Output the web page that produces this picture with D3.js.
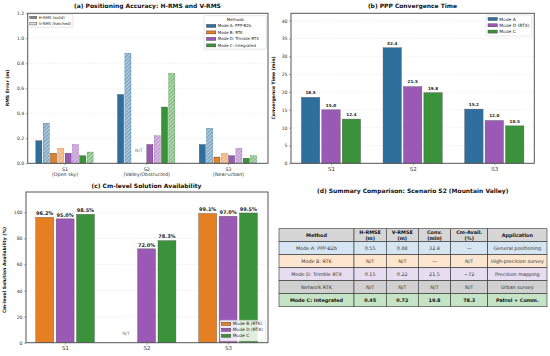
<!DOCTYPE html>
<html><head><meta charset="utf-8">
<script src="https://cdn.jsdelivr.net/npm/d3@7"></script>
<style>body{margin:0;background:#fff}svg{display:block;font-family:"DejaVu Sans",sans-serif}</style>
</head><body><svg id="c" width="550" height="356"></svg>
<script>
// ---------- data ----------
const scenarios = ["S1", "S2", "S3"];
const scenarioDesc = ["(Open sky)", "(Valley/Obstructed)", "(Near-urban)"];
const methods = ["Mode A: PPP-B2b", "Mode B: RTK", "Mode D: Trimble RTX", "Mode C: Integrated"];
const methodColors = ["#2e6f9e", "#e67e22", "#9b59b6", "#3a923a"];
const hRms = [[0.18, 0.55, 0.15], [0.08, null, 0.05], [0.08, 0.15, 0.06], [0.06, 0.45, 0.04]];
const vRms = [[0.32, 0.88, 0.28], [0.12, null, 0.08], [0.15, 0.22, 0.12], [0.09, 0.72, 0.06]];
const rmsTicks = [0, 0.2, 0.4, 0.6, 0.8, 1.0, 1.2];

const convMethods = ["Mode A", "Mode D (RTX)", "Mode C"];
const convColors = ["#2e6f9e", "#9b59b6", "#3a923a"];
const convValues = [[18.5, 32.4, 15.2], [15.0, 21.5, 12.0], [12.4, 19.8, 10.5]];
const convTicks = [0, 5, 10, 15, 20, 25, 30, 35, 40];

const availMethods = ["Mode B (RTK)", "Mode D (RTX)", "Mode C"];
const availColors = ["#e67e22", "#9b59b6", "#3a923a"];
const availValues = [[96.2, null, 99.1], [95.0, 72.0, 97.0], [98.5, 78.3, 99.5]];
const availTicks = [0, 20, 40, 60, 80, 100];

const tableHeader = ["Method", "H-RMSE\n(m)", "V-RMSE\n(m)", "Conv.\n(min)", "Cm-Avail.\n(%)", "Application"];
const tableRows = [
  ["Mode A: PPP-B2b", "0.55", "0.88", "32.4", "—", "General positioning"],
  ["Mode B: RTK", "N/T", "N/T", "—", "N/T", "High-precision survey"],
  ["Mode D: Trimble RTX", "0.15", "0.22", "21.5", "~72", "Precision mapping"],
  ["Network RTK", "N/T", "N/T", "N/T", "N/T", "Urban survey"],
  ["Mode C: Integrated", "0.45", "0.72", "19.8", "78.3", "Patrol + Comm."]
];
const rowColors = ["#d5e6f2", "#fde6d0", "#e6def0", "#d0d0d0", "#c5e3c5"];
const headerColor = "#d6d6d6";

// ---------- setup ----------
const svg = d3.select("#c");
const probe = svg.append("text").attr("x", -1000).attr("y", -1000);
function sizeFor(txt, target, weight) {
  probe.attr("font-size", 10).attr("font-weight", weight || "normal").text(txt);
  const w = probe.node().getComputedTextLength();
  return 10 * target / w;
}
const TITLEFS = sizeFor("(a) Positioning Accuracy: H-RMS and V-RMS", 147, "bold");
const LABFS = sizeFor("RMS Error (m)", 36.7, "bold");
const TICKFS = sizeFor("0.0", 7.3);
const XAFS = sizeFor("(Valley/Obstructed)", 46.7);
const LEGAFS = sizeFor("Mode D: Trimble RTX", 41.3);
const LEGA2FS = sizeFor("V-RMS (hatched)", 32.3);
const LEGBFS = sizeFor("Mode D (RTX)", 30.3);
const VALBFS = sizeFor("18.5", 10.3, "bold");
const VALCFS = sizeFor("96.2%", 17.3, "bold");
const NTFS = sizeFor("N/T", 7.7);
const TABFS = sizeFor("General positioning", 47.7);
const TABBFS = sizeFor("Mode C: Integrated", 53.3, "bold");
probe.remove();

const defs = svg.append("defs");
methodColors.forEach((c, i) => {
  const p = defs.append("pattern").attr("id", "hatch" + i)
    .attr("patternUnits", "userSpaceOnUse").attr("width", 2.6).attr("height", 2.6)
    .attr("patternTransform", "rotate(45)");
  p.append("rect").attr("width", 2.6).attr("height", 2.6).attr("fill", "#fff");
  p.append("rect").attr("width", 2.6).attr("height", 2.6).attr("fill", c).attr("opacity", 0.6);
  p.append("line").attr("x1", 0).attr("y1", 0).attr("x2", 0).attr("y2", 2.6)
    .attr("stroke", "#fff").attr("stroke-width", 0.9);
});
const hp = defs.append("pattern").attr("id", "hatchGray")
  .attr("patternUnits", "userSpaceOnUse").attr("width", 2.2).attr("height", 2.2)
  .attr("patternTransform", "rotate(45)");
hp.append("rect").attr("width", 2.2).attr("height", 2.2).attr("fill", "#d8d8d8");
hp.append("line").attr("x1", 0).attr("y1", 0).attr("x2", 0).attr("y2", 2.2)
  .attr("stroke", "#fff").attr("stroke-width", 0.8);

function drawAxes(box, x, y, ticks, fmt, xLabels, xLabels2) {
  const g = svg.append("g");
  g.selectAll(".grid").data(ticks).join("line")
    .attr("x1", box.x0).attr("x2", box.x1)
    .attr("y1", d => y(d)).attr("y2", d => y(d))
    .attr("stroke", "#e2e2e2").attr("stroke-width", 0.5).attr("stroke-dasharray", "1.5,1");
  const ya = g.append("g").attr("transform", `translate(${box.x0},0)`)
    .call(d3.axisLeft(y).tickValues(ticks).tickFormat(fmt).tickSize(2).tickPadding(1.5));
  ya.select(".domain").remove();
  ya.selectAll("text").attr("font-size", TICKFS).attr("fill", "#333").attr("font-family", "DejaVu Sans");
  ya.selectAll("line").attr("stroke", "#555").attr("stroke-width", 0.5);
  const xa = g.append("g").attr("transform", `translate(0,${box.y1})`)
    .call(d3.axisBottom(x).tickValues([0, 1, 2]).tickFormat(i => xLabels[i]).tickSize(2).tickPadding(1.8));
  xa.select(".domain").remove();
  xa.selectAll("line").attr("stroke", "#555").attr("stroke-width", 0.5);
  xa.selectAll("text").attr("font-size", box.xfs).attr("fill", "#333").attr("font-family", "DejaVu Sans");
  if (xLabels2) {
    xa.selectAll(".tick").append("text").attr("y", 3.8 + box.xfs * 1.2).attr("dy", "0.71em")
      .attr("font-size", box.xfs).attr("fill", "#333").attr("text-anchor", "middle")
      .attr("font-family", "DejaVu Sans")
      .text(i => xLabels2[i]);
  }
  return g;
}
function frame(box) {
  svg.append("rect").attr("x", box.x0).attr("y", box.y0)
    .attr("width", box.x1 - box.x0).attr("height", box.y1 - box.y0)
    .attr("fill", "none").attr("stroke", "#555").attr("stroke-width", 1);
}
function title(txt, x, y) {
  svg.append("text").attr("x", x).attr("y", y).attr("text-anchor", "middle")
    .attr("font-size", TITLEFS).attr("font-weight", "bold").attr("fill", "#111").text(txt);
}
function ylabel(txt, x, y) {
  svg.append("text").attr("transform", `translate(${x},${y}) rotate(-90)`)
    .attr("text-anchor", "middle").attr("font-size", LABFS).attr("font-weight", "bold")
    .attr("fill", "#111").text(txt);
}
function legend(box, items, fs, rowH, titleTxt) {
  const g = svg.append("g");
  g.append("rect").attr("x", box.x).attr("y", box.y).attr("width", box.w).attr("height", box.h)
    .attr("rx", 1).attr("fill", "#fff").attr("fill-opacity", 0.85)
    .attr("stroke", "#ccc").attr("stroke-width", 0.5);
  let y0 = box.y + box.top;
  if (titleTxt) {
    g.append("text").attr("x", box.x + box.w / 2).attr("y", y0).attr("dy", "0.35em")
      .attr("text-anchor", "middle").attr("font-size", fs).attr("fill", "#222").text(titleTxt);
    y0 += rowH;
  }
  items.forEach((it, i) => {
    const yy = y0 + i * rowH;
    g.append("rect").attr("x", box.x + box.px).attr("y", yy - box.ph / 2)
      .attr("width", box.pw).attr("height", box.ph).attr("fill", it.fill)
      .attr("stroke", "#333").attr("stroke-width", 0.4);
    g.append("text").attr("x", box.x + box.px + box.pw + 2).attr("y", yy).attr("dy", "0.35em")
      .attr("font-size", fs).attr("fill", "#222").text(it.label);
  });
}

// ---------- (a) ----------
{
  const box = { x0: 27.7, x1: 268, y0: 13.3, y1: 163.3, xfs: XAFS };
  const x = d3.scaleLinear().domain([-0.45, 2.49]).range([box.x0, box.x1]);
  const y = d3.scaleLinear().domain([0, 1.2]).range([box.y1, box.y0]);
  drawAxes(box, x, y, rmsTicks, d3.format(".1f"), scenarios, scenarioDesc);
  const bw = 0.074, mstep = 0.179, hv = 0.0447;
  methods.forEach((m, mi) => {
    scenarios.forEach((s, si) => {
      const cx = si + (mi - 1.5) * mstep;
      if (hRms[mi][si] == null) {
        svg.append("text").attr("x", x(cx)).attr("y", y(0.1)).attr("dy", "0.35em")
          .attr("text-anchor", "middle").attr("font-size", NTFS).attr("fill", "#777").text("N/T");
        return;
      }
      svg.append("rect").attr("x", x(cx - hv - bw / 2)).attr("width", x(bw) - x(0))
        .attr("y", y(hRms[mi][si])).attr("height", y(0) - y(hRms[mi][si]))
        .attr("fill", methodColors[mi]).attr("stroke", "#333").attr("stroke-width", 0.35);
      svg.append("rect").attr("x", x(cx + hv - bw / 2)).attr("width", x(bw) - x(0))
        .attr("y", y(vRms[mi][si])).attr("height", y(0) - y(vRms[mi][si]))
        .attr("fill", `url(#hatch${mi})`).attr("stroke", methodColors[mi]).attr("stroke-width", 0.35);
    });
  });
  frame(box);
  title("(a) Positioning Accuracy: H-RMS and V-RMS", 147.5, 8.3);
  ylabel("RMS Error (m)", 8.5, 88);
  legend({ x: 28.6, y: 14.3, w: 44.5, h: 13, top: 3.2, px: 1.2, pw: 7, ph: 2.3 },
    [{ fill: "#888", label: "H-RMS (solid)" }, { fill: "url(#hatchGray)", label: "V-RMS (hatched)" }], LEGA2FS, 6.3);
  legend({ x: 204, y: 15.7, w: 62.5, h: 33.5, top: 3.7, px: 2.5, pw: 9.3, ph: 3 },
    methods.map((m, i) => ({ fill: methodColors[i], label: m })), LEGAFS, 6.5, "Methods");
}

// ---------- (b) ----------
{
  const box = { x0: 291, x1: 534.3, y0: 13.3, y1: 163.3, xfs: TICKFS * 1.2 };
  const x = d3.scaleLinear().domain([-0.49, 2.49]).range([box.x0, box.x1]);
  const y = d3.scaleLinear().domain([0, 42.07]).range([box.y1, box.y0]);
  drawAxes(box, x, y, convTicks, d3.format("d"), scenarios);
  const bw = 0.225, step = 0.25;
  convMethods.forEach((m, mi) => {
    scenarios.forEach((s, si) => {
      const v = convValues[mi][si];
      const cx = si + (mi - 1) * step;
      svg.append("rect").attr("x", x(cx - bw / 2)).attr("width", x(bw) - x(0))
        .attr("y", y(v)).attr("height", y(0) - y(v))
        .attr("fill", convColors[mi]).attr("stroke", "#555").attr("stroke-width", 0.4);
      svg.append("text").attr("x", x(cx)).attr("y", y(v) - 3.2).attr("text-anchor", "middle")
        .attr("font-size", VALBFS).attr("font-weight", "bold").attr("fill", "#222").text(v.toFixed(1));
    });
  });
  frame(box);
  title("(b) PPP Convergence Time", 412.5, 8.3);
  ylabel("Convergence Time (min)", 274.8, 88);
  legend({ x: 486, y: 15, w: 45.7, h: 21, top: 4, px: 2, pw: 9.3, ph: 3 },
    convMethods.map((m, i) => ({ fill: convColors[i], label: m })), LEGBFS, 6.3);
}

// ---------- (c) ----------
{
  const box = { x0: 26, x1: 268, y0: 192, y1: 342.7, xfs: TICKFS * 1.2 };
  const x = d3.scaleLinear().domain([-0.48, 2.49]).range([box.x0, box.x1]);
  const y = d3.scaleLinear().domain([0, 115.6]).range([box.y1, box.y0]);
  drawAxes(box, x, y, availTicks, d3.format("d"), scenarios);
  const bw = 0.22, step = 0.25;
  availMethods.forEach((m, mi) => {
    scenarios.forEach((s, si) => {
      const v = availValues[mi][si];
      const cx = si + (mi - 1) * step;
      if (v == null) {
        svg.append("text").attr("x", x(cx)).attr("y", y(7)).attr("dy", "0.35em")
          .attr("text-anchor", "middle").attr("font-size", NTFS).attr("fill", "#777").text("N/T");
        return;
      }
      svg.append("rect").attr("x", x(cx - bw / 2)).attr("width", x(bw) - x(0))
        .attr("y", y(v)).attr("height", y(0) - y(v))
        .attr("fill", availColors[mi]).attr("stroke", "#555").attr("stroke-width", 0.4);
      svg.append("text").attr("x", x(cx)).attr("y", y(v) - 2.3).attr("text-anchor", "middle")
        .attr("font-size", VALCFS).attr("font-weight", "bold").attr("fill", "#222").text(v.toFixed(1) + "%");
    });
  });
  legend({ x: 220, y: 320.3, w: 45.7, h: 20.7, top: 3.5, px: 1.5, pw: 9.3, ph: 3 },
    availMethods.map((m, i) => ({ fill: availColors[i], label: m })), LEGBFS, 6);
  frame(box);
  title("(c) Cm-level Solution Availability", 146.5, 187.5);
  ylabel("Cm-level Solution Availability (%)", 5.5, 270);
}

// ---------- (d) ----------
{
  title("(d) Summary Comparison: Scenario S2 (Mountain Valley)", 412.7, 192.5);
  const colX = [279, 354, 386.3, 418.3, 450.7, 487.7, 547];
  const rowY = [228.7, 241.7, 254.7, 267.7, 280.7, 293.7, 306.7];
  const all = [tableHeader].concat(tableRows);
  const g = svg.append("g");
  all.forEach((row, ri) => {
    const fill = ri === 0 ? headerColor : rowColors[ri - 1];
    const bold = ri === 0 || ri === all.length - 1;
    row.forEach((cell, ci) => {
      g.append("rect").attr("x", colX[ci]).attr("y", rowY[ri])
        .attr("width", colX[ci + 1] - colX[ci]).attr("height", rowY[ri + 1] - rowY[ri])
        .attr("fill", fill).attr("stroke", "#333").attr("stroke-width", 0.6);
      const lines = cell.split("\n");
      const cx = (colX[ci] + colX[ci + 1]) / 2, cy = (rowY[ri] + rowY[ri + 1]) / 2;
      const lh = 5.4;
      lines.forEach((ln, li) => {
        g.append("text").attr("x", cx).attr("y", cy + (li - (lines.length - 1) / 2) * lh)
          .attr("dy", "0.35em").attr("text-anchor", "middle")
          .attr("font-size", bold ? TABBFS : TABFS).attr("font-weight", bold ? "bold" : "normal")
          .attr("fill", bold ? "#111" : "#333").text(ln);
      });
    });
  });
}
</script></body></html>
